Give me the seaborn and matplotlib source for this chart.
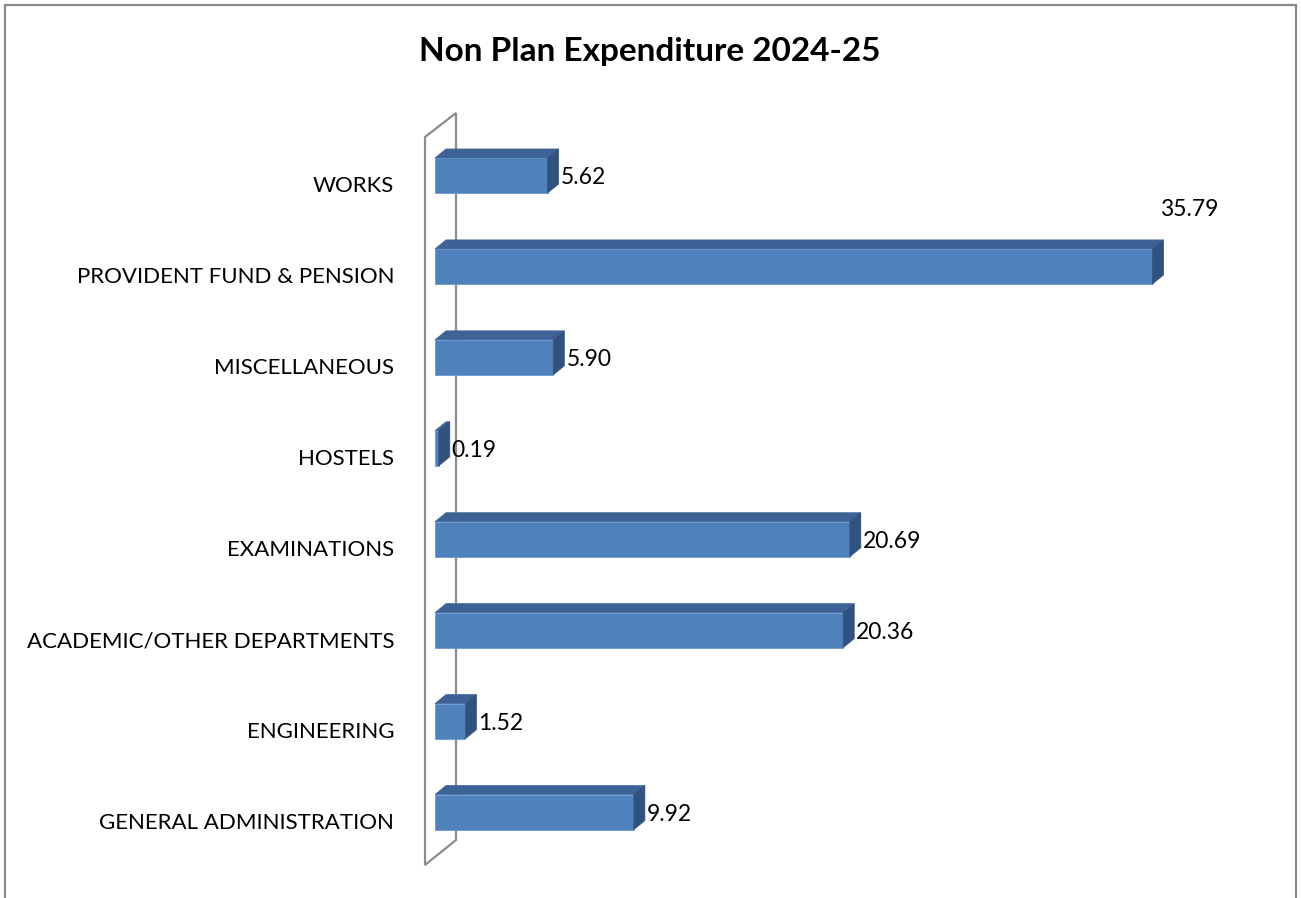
import numpy as np
import pandas as pd
import matplotlib
matplotlib.use("Agg")
import matplotlib.pyplot as plt
import matplotlib.transforms as mtransforms
from matplotlib.patches import Polygon, Rectangle
import seaborn as sns

# ---------------- data ----------------
categories = [
    "WORKS",
    "PROVIDENT FUND & PENSION",
    "MISCELLANEOUS",
    "HOSTELS",
    "EXAMINATIONS",
    "ACADEMIC/OTHER DEPARTMENTS",
    "ENGINEERING",
    "GENERAL ADMINISTRATION",
]
values = [5.62, 35.79, 5.90, 0.19, 20.69, 20.36, 1.52, 9.92]
value_labels = ["5.62", "35.79", "5.90", "0.19", "20.69", "20.36", "1.52", "9.92"]
title = "Non Plan Expenditure 2024-25"

# ---------------- style ----------------
W, H, DPI = 1301, 898, 100
FRONT = "#4F81BD"
TOP = "#3D6396"
SIDE = "#30527F"
EDGE = "#6F9AD0"
WALL = "#8C8C8C"
DX, DY = 11, 9  # 3D depth offset in pixels

sns.set_theme(style="white")
plt.rcParams["font.family"] = ["Lato", "DejaVu Sans"]

fig = plt.figure(figsize=(W / DPI, H / DPI), dpi=DPI)
fig.patch.set_facecolor("white")
ax = fig.add_axes([435 / W, 1 - 857.5 / H, 802 / W, 727.5 / H])
ax.patch.set_alpha(0)

df = pd.DataFrame({"category": categories, "value": values})
sns.barplot(data=df, x="value", y="category", orient="h", color=FRONT,
            saturation=1, width=0.385, ax=ax, edgecolor=EDGE, linewidth=0.6,
            zorder=2)
ax.set_xlim(0, 40)
ax.set_ylim(7.5, -0.5)

for s in ax.spines.values():
    s.set_visible(False)
ax.set_xticks([])
ax.set_xlabel("")
ax.set_ylabel("")
ax.tick_params(axis="y", length=0, pad=29.5, labelsize=16, labelcolor="black")
offset = mtransforms.ScaledTranslation(0, -9 / DPI, fig.dpi_scale_trans)
for lbl in ax.get_yticklabels():
    lbl.set_transform(lbl.get_transform() + offset)

# wall (left panel of the 3D chart), in figure pixels
wall_px = [(425, 865), (425, 137), (456, 113), (456, 840)]
wall = Polygon([(x / W, 1 - y / H) for x, y in wall_px], closed=True,
               fill=False, ec=WALL, lw=1.6, transform=fig.transFigure,
               clip_on=False, zorder=0.5)
ax.add_artist(wall)

# 3D faces + value labels
to_data = ax.transData.inverted()
vmax = max(values)
for p, val, lab in zip(ax.patches, values, value_labels):
    x0, y0 = p.get_x(), p.get_y()
    w, h = p.get_width(), p.get_height()
    (L, Ya) = ax.transData.transform((x0, y0))
    (R, Yb) = ax.transData.transform((x0 + w, y0 + h))
    T, B = max(Ya, Yb), min(Ya, Yb)
    top = [(L, T), (L + DX, T + DY), (R + DX, T + DY), (R, T)]
    side = [(R, T), (R + DX, T + DY), (R + DX, B + DY), (R, B)]
    ax.add_patch(Polygon(to_data.transform(top), closed=True, fc=TOP,
                         ec=TOP, lw=0.5, clip_on=False, zorder=2.1))
    ax.add_patch(Polygon(to_data.transform(side), closed=True, fc=SIDE,
                         ec=SIDE, lw=0.5, clip_on=False, zorder=2.1))
    if val == vmax:
        tx, ty = to_data.transform((R + DX + 26, T + DY + 30))
        ax.text(tx, ty, lab, ha="center", va="center", fontsize=16.5,
                color="black", clip_on=False)
    else:
        tx, ty = to_data.transform((R + DX + 2, (T + B) / 2 - 2))
        ax.text(tx, ty, lab, ha="left", va="center", fontsize=16.5,
                color="black", clip_on=False)

ax.set_xlim(0, 40)
ax.set_ylim(7.5, -0.5)

# outer chart border
fig.add_artist(Rectangle((4.5 / W, -0.05), (1295.5 - 4.5) / W, 1.05 - 5.5 / H,
                         transform=fig.transFigure, fill=False, ec="#8A8A8A",
                         lw=1.6))

fig.text(650 / W, 1 - 51 / H, title, ha="center", va="center",
         fontsize=24, fontweight="bold", color="black")

fig.savefig("out.png", dpi=DPI, facecolor="white")
